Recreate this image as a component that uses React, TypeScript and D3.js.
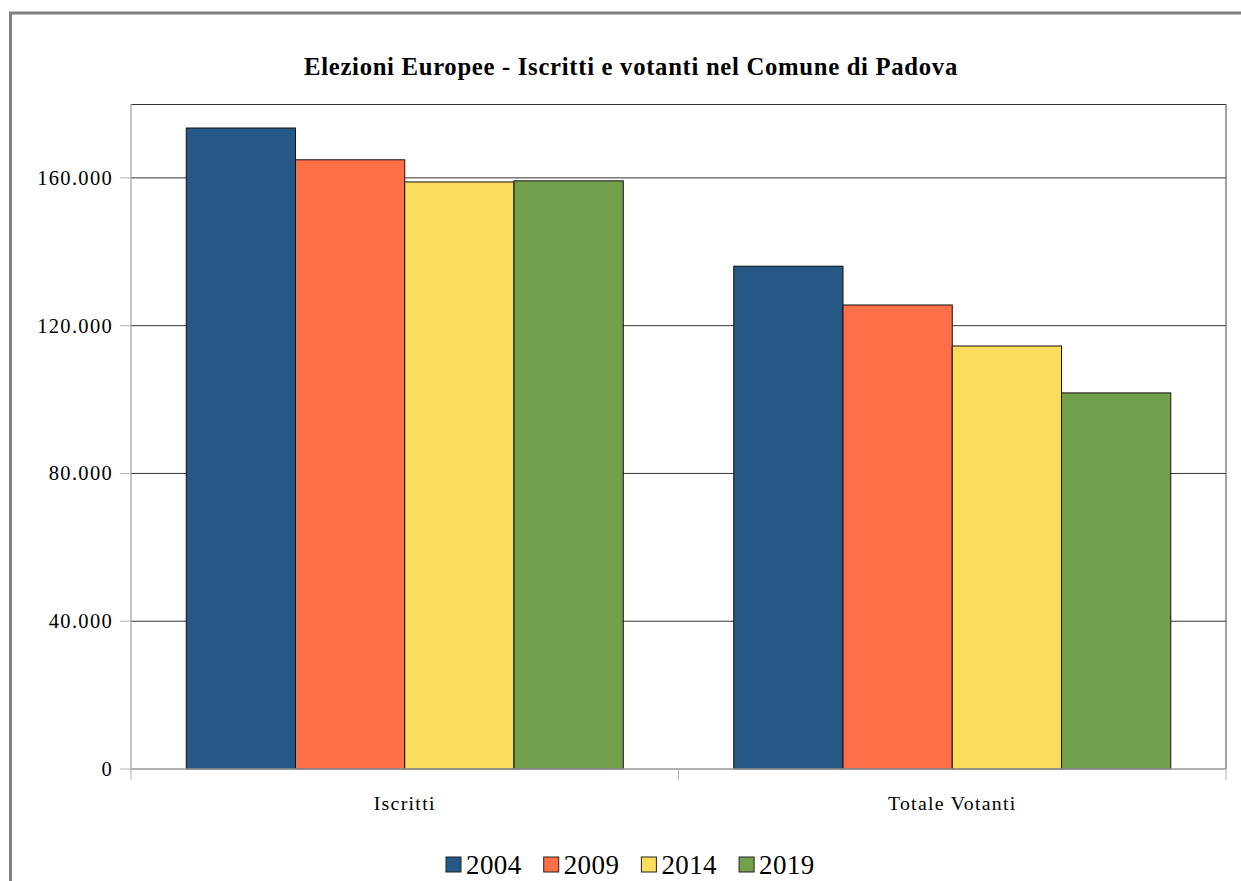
import React from "react";
import * as d3 from "d3";

const categories = ["Iscritti", "Totale Votanti"];
const years = ["2004", "2009", "2014", "2019"];
const values2004 = [173500, 136100];
const values2009 = [164900, 125600];
const values2014 = [158900, 114500];
const values2019 = [159200, 101800];
const colors = ["#255886", "#ff6f48", "#fadd5c", "#72a04b"];
const yTicks = [0, 40000, 80000, 120000, 160000];
const title = "Elezioni Europee - Iscritti e votanti nel Comune di Padova";

const series = [values2004, values2009, values2014, values2019];

export default function App() {
  const W = 1241, H = 881;
  const left = 131, right = 1226, top = 104, bottom = 769;
  const x = d3.scaleBand<string>().domain(categories).range([left, right]).paddingInner(0.2018).paddingOuter(0.1009);
  const xi = d3.scaleBand<string>().domain(years).range([0, x.bandwidth()]).padding(0);
  const y = d3.scaleLinear().domain([0, 180000]).range([bottom, top]);
  const fmt = (v: number) => d3.format(",")(v).replace(/,/g, ".");
  const font = "'Liberation Serif', 'Times New Roman', serif";
  const step = x.step();
  const catBounds = [left, left + step, right];

  return (
    <svg width={W} height={H} style={{ position: "absolute", left: 0, top: 0 }} fontFamily={font}>
      <rect x={0} y={0} width={W} height={H} fill="#fff" />
      <rect x={10.5} y={13} width={W + 20} height={H + 20} fill="none" stroke="#808080" strokeWidth={3} />
      <text x={631} y={75} textAnchor="middle" fontSize={24.7} fontWeight="bold" letterSpacing={0.7}>{title}</text>
      {/* gridlines */}
      {yTicks.filter(t => t > 0).map(t => (
        <line key={t} x1={left} x2={right} y1={y(t)} y2={y(t)} stroke="#333" strokeWidth={1} />
      ))}
      {/* plot frame */}
      <line x1={left} x2={right} y1={top + 0.5} y2={top + 0.5} stroke="#333" />
      <line x1={right} x2={right} y1={top} y2={bottom} stroke="#666" strokeWidth={1.2} />
      {/* bars */}
      {series.map((s, si) =>
        s.map((v, ci) => (
          <rect
            key={`${si}-${ci}`}
            x={(x(categories[ci]) ?? 0) + (xi(years[si]) ?? 0)}
            y={y(v)}
            width={xi.bandwidth()}
            height={bottom - y(v)}
            fill={colors[si]}
            stroke="#111"
            strokeWidth={1}
          />
        ))
      )}
      {/* axes */}
      <line x1={left} x2={left} y1={top} y2={bottom} stroke="#a0a0a0" strokeWidth={1.2} />
      <line x1={left} x2={right} y1={bottom} y2={bottom} stroke="#999" strokeWidth={1.5} />
      {yTicks.map(t => (
        <g key={t}>
          <line x1={120} x2={left} y1={y(t)} y2={y(t)} stroke="#b0b0b0" />
          <text x={113} y={y(t) + 7} textAnchor="end" fontSize={20.5} letterSpacing={1.3}>{fmt(t)}</text>
        </g>
      ))}
      {catBounds.map((b, i) => (
        <line key={i} x1={b} x2={b} y1={bottom} y2={bottom + 11} stroke="#b0b0b0" />
      ))}
      {categories.map(c => (
        <text key={c} x={(x(c) ?? 0) + x.bandwidth() / 2} y={810} textAnchor="middle" fontSize={19.8} letterSpacing={1.3}>{c}</text>
      ))}
      {/* legend */}
      {years.map((yr, i) => {
        const lx = 446 + i * 97.7;
        return (
          <g key={yr}>
            <rect x={lx} y={857} width={15} height={15} fill={colors[i]} stroke="#222" />
            <text x={lx + 20} y={874} fontSize={27} letterSpacing={0.4}>{yr}</text>
          </g>
        );
      })}
    </svg>
  );
}
